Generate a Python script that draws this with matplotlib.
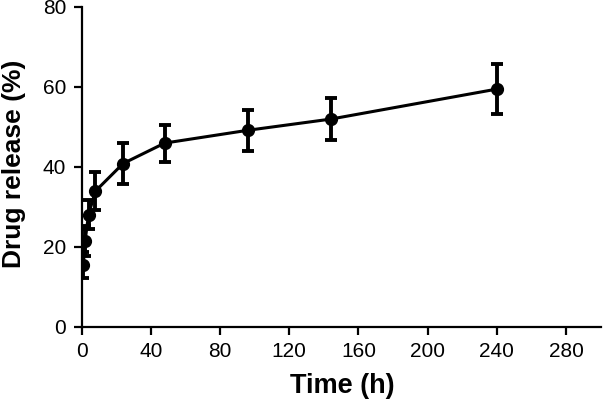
import numpy as np
import matplotlib.pyplot as plt

plt.rcParams['font.family'] = ['Liberation Sans', 'DejaVu Sans']

time_h = [1, 2, 4, 8, 24, 48, 96, 144, 240]
release = [15.5, 21.4, 28.0, 33.9, 40.8, 45.9, 49.1, 51.9, 59.4]
release_sd = [3.2, 3.8, 3.6, 4.8, 5.1, 4.6, 5.2, 5.3, 6.3]

W, H = 604, 407
fig = plt.figure(figsize=(W / 100, H / 100), dpi=100)
ax = fig.add_axes([81.6 / W, 80.3 / H, 519 / W, 320 / H])

ax.errorbar(time_h, release, yerr=release_sd, color='black', linewidth=2.2,
            marker='o', markersize=8.5, elinewidth=2.8, capsize=4.5, capthick=2.8)

ax.set_xlim(0, 300)
ax.set_ylim(0, 80)
ax.set_xticks(np.arange(0, 281, 40))
ax.set_yticks(np.arange(0, 81, 20))
ax.spines['top'].set_visible(False)
ax.spines['right'].set_visible(False)
for s in ['left', 'bottom']:
    ax.spines[s].set_linewidth(1.6)
    ax.spines[s].set_clip_on(False)
ax.tick_params(width=1.6, length=6, labelsize=15, pad=5)

# axis titles placed in figure pixels
fig.text(342 / W, 1 - 386 / H, 'Time (h)', fontsize=19.5, fontweight='bold',
         ha='center', va='center')
fig.text(14 / W, 1 - 164 / H, 'Drug release (%)', fontsize=19, fontweight='bold',
         ha='center', va='center', rotation=90)

plt.savefig('out.png', dpi=100)
